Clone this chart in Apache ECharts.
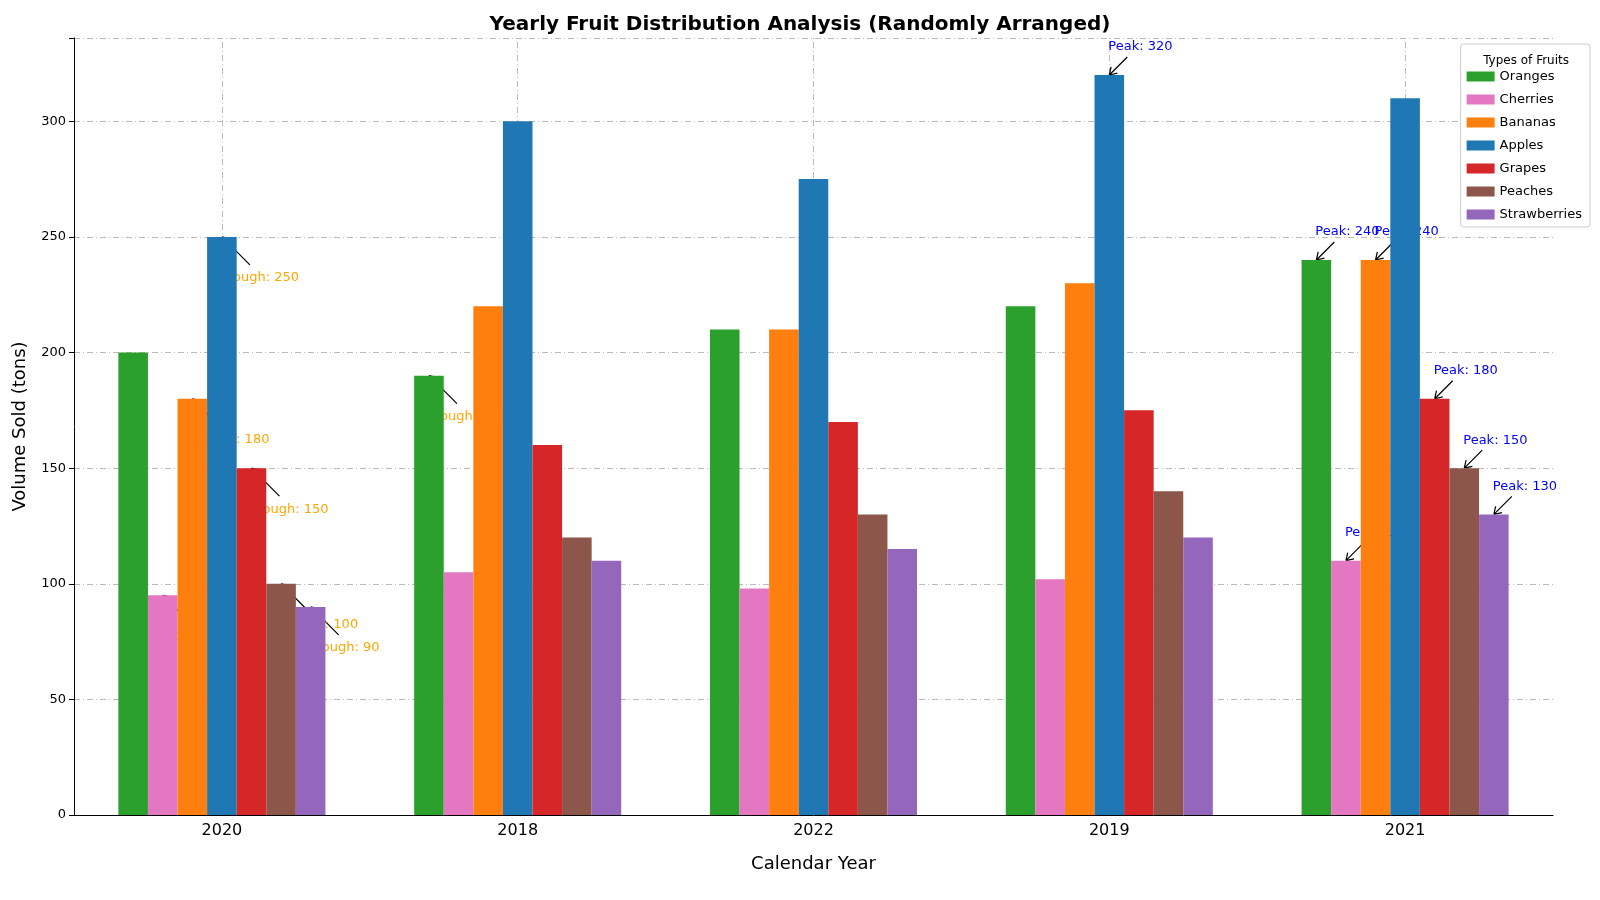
<!DOCTYPE html>
<html><head><meta charset="utf-8">
<script src="https://cdn.jsdelivr.net/npm/echarts@6/dist/echarts.min.js"></script>
<style>html,body{margin:0;padding:0;background:#fff;overflow:hidden}#c{width:1600px;height:900px}</style>
</head><body><div id="c"></div>
<script>
const categories = ['2020','2018','2022','2019','2021'];
const fruits = ['Oranges','Cherries','Bananas','Apples','Grapes','Peaches','Strawberries'];
const colors = ['#2ca02c','#e377c2','#ff7f0e','#1f77b4','#d62728','#8c564b','#9467bd'];
const oranges = [200,190,210,220,240];
const cherries = [95,105,98,102,110];
const bananas = [180,220,210,230,240];
const apples = [250,300,275,320,310];
const grapes = [150,160,170,175,180];
const peaches = [100,120,130,140,150];
const strawberries = [90,110,115,120,130];
const values = [oranges,cherries,bananas,apples,grapes,peaches,strawberries];
const yTicks = [0,50,100,150,200,250,300];

const troughPath = 'path://M0,0 L30,30 M0,0 L9,2 M0,0 L2,9';
const peakPath = 'path://M0,20 L20,0 M0,20 L2,11 M0,20 L9,18';
const font = 'DejaVu Sans';

function marks(vals){
  let mn = Math.min(...vals), mx = Math.max(...vals);
  let ti = vals.indexOf(mn), pi = vals.indexOf(mx);
  return [
    {coord:[ti,mn], symbol:troughPath, symbolSize:[28,28], symbolOffset:[14,14], symbolKeepAspect:true,
     itemStyle:{color:'none',borderColor:'#000',borderWidth:1.2}, label:{show:false}},
    {coord:[ti,mn], symbol:'circle', symbolSize:1, itemStyle:{color:'rgba(0,0,0,0)'},
     label:{show:true,position:'inside',offset:[0,41],align:'left',verticalAlign:'middle',color:'orange',fontSize:13,fontFamily:font,formatter:'Trough: '+mn}},
    {coord:[pi,mx], symbol:peakPath, symbolSize:[18,18], symbolOffset:[9,-9], symbolKeepAspect:true,
     itemStyle:{color:'none',borderColor:'#000',borderWidth:1.2}, label:{show:false}},
    {coord:[pi,mx], symbol:'circle', symbolSize:1, itemStyle:{color:'rgba(0,0,0,0)'},
     label:{show:true,position:'inside',offset:[-1,-28],align:'left',verticalAlign:'middle',color:'blue',fontSize:13,fontFamily:font,formatter:'Peak: '+mx}}
  ];
}

const series = fruits.map((f,i)=>({
  name:f, type:'bar', data:values[i], barGap:'0%', barCategoryGap:'30%',
  itemStyle:{color:colors[i]}, z:3, zlevel:1,
  markPoint:{data:marks(values[i]), animation:false}
}));
series.push({
  type:'line', data:[], z:1, zlevel:0, silent:true,
  markLine:{symbol:'none', silent:true, label:{show:false}, animation:false,
    lineStyle:{color:'#bbb',type:[6,3,1,3],width:1},
    data:categories.map(c=>({xAxis:c}))}
});

const chart = echarts.init(document.getElementById('c'));
chart.setOption({
  animation:false,
  title:[{text:'Yearly Fruit Distribution Analysis (Randomly Arranged)', left:'center', top:10,
    textStyle:{fontSize:20,fontWeight:'bold',fontFamily:font,color:'#000'}},
    {text:'Types of Fruits', right:26, top:50, zlevel:2, textStyle:{fontSize:12,fontWeight:'normal',fontFamily:font,color:'#000'}}],
  grid:{left:74,right:47,top:38,bottom:85},
  legend:{data:fruits, orient:'vertical', right:10, top:44, icon:'rect', itemWidth:28, itemHeight:10, itemGap:10, zlevel:1,
    backgroundColor:'#fff', borderColor:'#ccc', borderWidth:1, borderRadius:3, padding:[26,8,6,6],
    textStyle:{fontSize:13,fontFamily:font,color:'#000'}},
  xAxis:{type:'category', data:categories, name:'Calendar Year', nameLocation:'middle', nameGap:40,
    nameTextStyle:{fontSize:18,fontFamily:font,color:'#000'},
    axisLine:{show:true,onZero:false,lineStyle:{color:'#000'}},
    axisTick:{alignWithLabel:true,lineStyle:{color:'#000'}},
    axisLabel:{fontSize:16,fontFamily:font,color:'#000'}, splitLine:{show:false}},
  yAxis:{type:'value', min:0, max:336, interval:50, name:'Volume Sold (tons)', nameLocation:'middle', nameGap:45,
    nameTextStyle:{fontSize:18,fontFamily:font,color:'#000'},
    axisLine:{show:true,lineStyle:{color:'#000'}}, axisTick:{show:true,lineStyle:{color:'#000'}},
    axisLabel:{fontSize:13,fontFamily:font,color:'#000',formatter:v=>yTicks.includes(v)?String(v):''},
    splitLine:{show:true,lineStyle:{color:'#bbb',type:[6,3,1,3]}}},
  series:series
});
</script></body></html>
